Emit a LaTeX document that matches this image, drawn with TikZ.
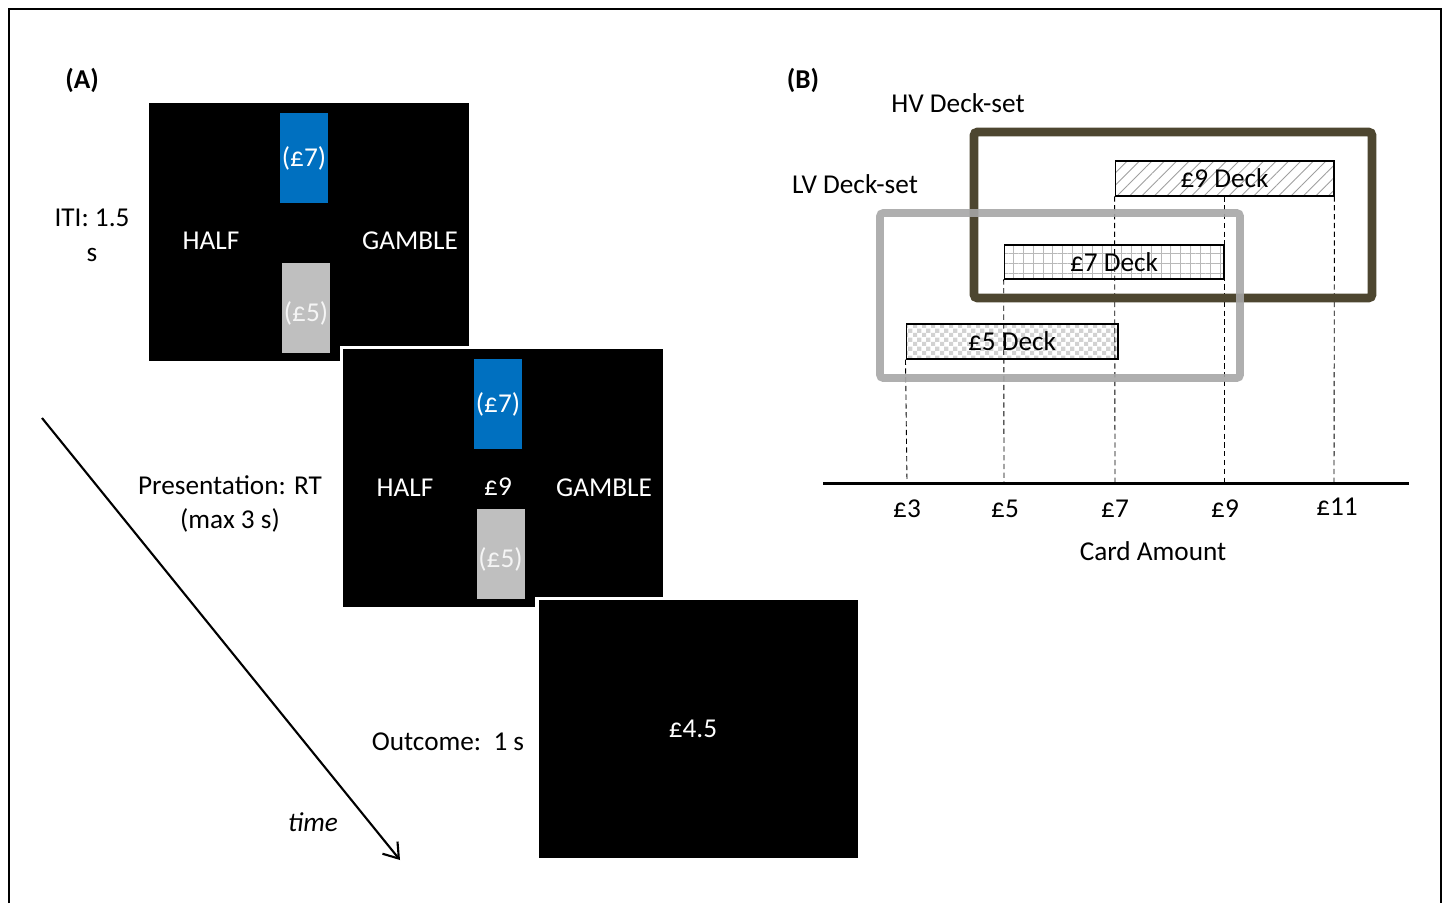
\documentclass[tikz,border=0pt]{standalone}
\usepackage{fontspec}
\setmainfont{Carlito}
\usetikzlibrary{arrows.meta,patterns.meta}
\definecolor{cardblue}{HTML}{0070C0}
\definecolor{cardgray}{HTML}{BFBFBF}
\definecolor{hvolive}{HTML}{4D4630}
\definecolor{lvgray}{HTML}{A6A6A6}
\tikzdeclarepattern{name=fchecks, type=uncolored,
  bounding box={(0,0) and (5.2pt,5.2pt)}, tile size={(5.2pt,5.2pt)},
  code={\fill (0,0) rectangle (2.6pt,2.6pt); \fill (2.6pt,2.6pt) rectangle (5.2pt,5.2pt);}}

\begin{document}
\begin{tikzpicture}[x=0.02cm, y=-0.02cm,
      every node/.style={font=\fontsize{15.5}{19.5}\selectfont},
      screen/.style={fill=black, draw=white, line width=2pt,
                     minimum width=6.47cm, minimum height=5.23cm, inner sep=0},
      card/.style={minimum width=0.96cm, minimum height=1.8cm, inner sep=0},
      scrtxt/.style={text=white},
      lbl/.style={align=center},
      deck/.style={draw, line width=0.6pt, inner sep=0, minimum height=0.7cm},
      guide/.style={line width=0.5pt, dash pattern=on 3pt off 2pt},
      timearr/.style={-{Straight Barb[length=8pt, width=11pt]}, line width=1.2pt}
    ]
      \useasboundingbox (0,0) rectangle (1446,903);
      \draw[line width=0.6pt] (9,903) -- (9,9) -- (1441,9) -- (1441,903);

      % (A) trial sequence
      \node[font=\fontsize{15.5}{19.5}\selectfont\bfseries] (lblA) at (82,80) {(A)};

      % Screen 1: ITI
      \node[screen] (scr1) at (309,232) {};
      \node[card, fill=cardblue, text=white] (hi1) at (304,158) {(£7)};
      \node[card, fill=cardgray] (lo1) at (306,308) {};
      \node[text=white!92!gray] (lo1txt) at (306,313) {(£5)};
      \node[scrtxt] (half1) at (211,241) {HALF};
      \node[scrtxt] (gamb1) at (410,241) {GAMBLE};
      \node[lbl, font=\fontsize{15.5}{20}\selectfont] (iti) at (92,235) {ITI: 1.5\\s};

      % Screen 2: presentation
      \node[screen] (scr2) at (503,478) {};
      \node[card, fill=cardblue, text=white] (hi2) at (498,404) {(£7)};
      \node[card, fill=cardgray] (lo2) at (500.5,554) {};
      \node[text=white!92!gray] (lo2txt) at (500.5,559) {(£5)};
      \node[scrtxt] (half2) at (405,488) {HALF};
      \node[scrtxt] (amt2) at (498,487) {£9};
      \node[scrtxt] (gamb2) at (604,488) {GAMBLE};
      \node[lbl] (pres) at (230,504) {Presentation: RT\\(max 3 s)};

      % Screen 3: outcome
      \node[screen] (scr3) at (698.5,729) {};
      \node[scrtxt] (win) at (693,729) {£4.5};
      \node (outc) at (448,742) {Outcome:\ \ 1 s};

      % time arrow
      \coordinate (tstart) at (42,418);
      \coordinate (tend) at (400,860);
      \draw[timearr] (tstart) -- (tend);
      \node[font=\fontsize{15.5}{19.5}\selectfont\itshape] (timelbl) at (313,822) {time};

      % (B) deck-sets
      \node[font=\fontsize{15.5}{19.5}\selectfont\bfseries] (lblB) at (803,80) {(B)};
      \node (hvlbl) at (958,103) {HV Deck-set};
      \node (lvlbl) at (855,184) {LV Deck-set};

      % axis
      \coordinate (t3) at (907,483);
      \coordinate (t5) at (1004,483);
      \coordinate (t7) at (1115,483);
      \coordinate (t9) at (1224,483);
      \coordinate (t11) at (1334,483);
      \draw[line width=1.7pt] (823,483) -- (1409,483);
      \node (x3) at (907,509) {£3};
      \node (x5) at (1005,509) {£5};
      \node (x7) at (1115,509) {£7};
      \node (x9) at (1225,509) {£9};
      \node (x11) at (1337,507) {£11};
      \node (xlbl) at (1153,551) {Card Amount};

      % decks
      \node[deck, minimum width=4.38cm, pattern={Lines[angle=45, distance=5pt, line width=0.5pt]},
            pattern color=gray!75] (d9) at (1224.5,178.5) {};
      \node[deck, minimum width=4.4cm, minimum height=0.68cm,
            pattern={Hatch[distance=5.6pt, line width=0.4pt]}, pattern color=gray!55] (d7) at (1114,262) {};
      \node[deck, minimum width=4.24cm, pattern=fchecks, pattern color=gray!35] (d5) at (1012,341.5) {};

      % guides
      \draw[guide] (d5.south west) -- (t3);
      \draw[guide] (d7.south west) -- (t5);
      \draw[guide] (d9.south west) -- (t7);
      \draw[guide] (t9 |- d9.south) -- (t9);
      \draw[guide] (d9.south east) -- (t11);

      % deck-set frames
      \draw[hvolive, line width=5pt, rounded corners=2pt] (974,132) rectangle (1372,298);
      \draw[lvgray, line width=4.5pt, rounded corners=2pt, opacity=0.9] (880,213) rectangle (1240,378);

      % deck names on top
      \node (n9) at (d9) {£9 Deck};
      \node (n7) at (d7) {£7 Deck};
      \node (n5) at (d5) {£5 Deck};
    \end{tikzpicture}
\end{document}
